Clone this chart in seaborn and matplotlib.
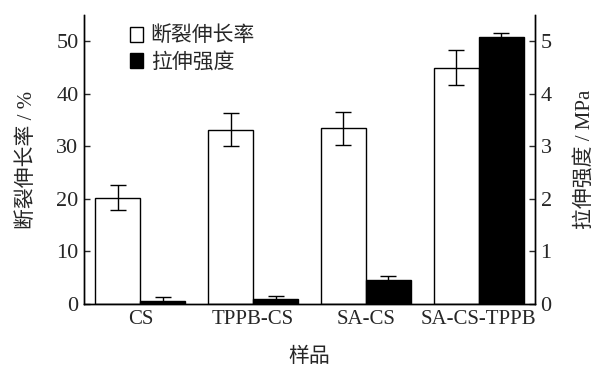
import matplotlib
matplotlib.use("Agg")
import matplotlib.pyplot as plt
import seaborn as sns
import pandas as pd
from matplotlib.patches import Patch

categories = ["CS", "TPPB-CS", "SA-CS", "SA-CS-TPPB"]
elongation = [20.2, 33.2, 33.4, 45.0]
elongation_err = [2.4, 3.1, 3.2, 3.3]
strength = [0.05, 0.10, 0.46, 5.08]
strength_err = [0.08, 0.05, 0.07, 0.08]
series = ["断裂伸长率", "拉伸强度"]
xlabel = "样品"
ylabel_left = "断裂伸长率 / %"
ylabel_right = "拉伸强度 / MPa"

sns.set_style("ticks")
fam = ["Liberation Serif", "Noto Sans CJK SC"]
plt.rcParams["font.family"] = fam
plt.rcParams["axes.unicode_minus"] = False

n = len(categories)
df_left = pd.DataFrame({"cat": categories, "series": [series[0]] * n, "val": elongation})
df_right = pd.DataFrame({"cat": categories, "series": [series[1]] * n, "val": strength})

fig = plt.figure(figsize=(5.95, 3.67), dpi=100)
ax = fig.add_axes([84 / 595, 63 / 367, 451 / 595, 289 / 367])
ax2 = ax.twinx()

pal = {series[0]: "white", series[1]: "black"}
sns.barplot(data=df_left, x="cat", y="val", hue="series", hue_order=series,
            order=categories, palette=pal, ax=ax, width=0.8, dodge=True,
            edgecolor="black", linewidth=1.0, legend=False, errorbar=None)
sns.barplot(data=df_right, x="cat", y="val", hue="series", hue_order=series,
            order=categories, palette=pal, ax=ax2, width=0.8, dodge=True,
            edgecolor="black", linewidth=1.0, legend=False, errorbar=None)

for a, errs in ((ax, elongation_err), (ax2, strength_err)):
    ps = [p for p in a.patches if p.get_height() > 0]
    ps = sorted(ps, key=lambda p: p.get_x())
    xs = [p.get_x() + p.get_width() / 2 for p in ps]
    hs = [p.get_height() for p in ps]
    a.errorbar(xs, hs, yerr=errs, fmt="none", ecolor="black", elinewidth=1.0,
               capsize=6, capthick=1.0, zorder=5)

ax.set_xlim(-0.5, 3.5)
ax.set_ylim(0, 55)
ax2.set_ylim(0, 5.5)
ax.set_yticks([0, 10, 20, 30, 40, 50])
ax2.set_yticks([0, 1, 2, 3, 4, 5])

for a in (ax, ax2):
    a.spines["top"].set_visible(False)
    for s in a.spines.values():
        s.set_linewidth(1.0)
        s.set_color("black")
ax.spines["right"].set_visible(True)
ax.tick_params(axis="y", direction="in", length=4, width=1, labelsize=16, pad=4)
ax.tick_params(axis="x", length=0, labelsize=15, pad=4)
ax2.tick_params(axis="y", direction="in", length=4, width=1, labelsize=16, pad=4)

ax.set_xlabel(xlabel, fontsize=15, labelpad=14, family=fam)
ax.set_ylabel(ylabel_left, fontsize=15, labelpad=14, family=fam)
ax2.set_ylabel(ylabel_right, fontsize=15, labelpad=17, family=fam)
for lab in ax.get_xticklabels() + ax.get_yticklabels() + ax2.get_yticklabels():
    lab.set_family(fam)

handles = [Patch(facecolor="white", edgecolor="black", linewidth=1.0),
           Patch(facecolor="black", edgecolor="black", linewidth=1.0)]
leg = ax.legend(handles, series, loc="upper left", bbox_to_anchor=(0.06, 1.025),
                frameon=False, handlelength=0.65, handleheight=0.75, handletextpad=0.35,
                labelspacing=0.3, prop={"family": fam, "size": 15})

fig.savefig("out.png", dpi=100)
